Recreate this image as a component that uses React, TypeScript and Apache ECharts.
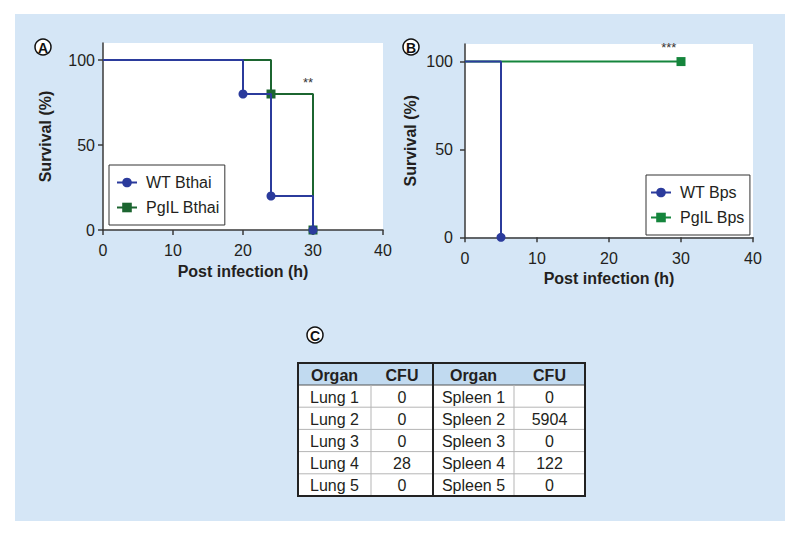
import React, { useEffect, useRef } from 'react';
import * as echarts from 'echarts';

// ---- Data ----
const xTicks = [0, 10, 20, 30, 40];
const yTicks = [0, 50, 100];

const wtBthaiTime = [0, 20, 24, 30];
const wtBthaiSurvival = [100, 80, 20, 0];
const pglBthaiTime = [0, 24, 30];
const pglBthaiSurvival = [100, 80, 0];

const wtBpsTime = [0, 5];
const wtBpsSurvival = [100, 0];
const pglBpsTime = [0, 30];
const pglBpsSurvival = [100, 100];

const tableHeaders = ['Organ', 'CFU', 'Organ', 'CFU'];
const lungOrgans = ['Lung 1', 'Lung 2', 'Lung 3', 'Lung 4', 'Lung 5'];
const lungCFU = [0, 0, 0, 28, 0];
const spleenOrgans = ['Spleen 1', 'Spleen 2', 'Spleen 3', 'Spleen 4', 'Spleen 5'];
const spleenCFU = [0, 5904, 0, 122, 0];

// ---- Styles ----
const FONT = '"Liberation Sans", Arial, Helvetica, sans-serif';
const TXT = '#231f20';
const AX = '#3a3a3a';
const BLUE = '#2b3b9c';
const GREEN_A = '#1c6530';
const GREEN_B = '#15853c';

function kmData(time: number[], surv: number[]) {
  return time.map((t, i) => (i === 0 ? { value: [t, surv[i]], symbol: 'none' } : { value: [t, surv[i]] }));
}

function xAxis(gridIndex: number, labelMargin: number) {
  return {
    type: 'value', gridIndex, min: 0, max: 40, interval: 10,
    name: 'Post infection (h)', nameLocation: 'middle', nameGap: 33,
    nameTextStyle: { fontFamily: FONT, fontSize: 16, fontWeight: 'bold', color: TXT },
    axisLine: { show: true, onZero: false, lineStyle: { color: AX, width: 1.5 } },
    axisTick: { show: true, length: 5, customValues: xTicks, lineStyle: { color: AX, width: 1.5 } },
    axisLabel: { margin: labelMargin, customValues: xTicks, fontFamily: FONT, fontSize: 16, color: TXT },
    splitLine: { show: false },
  };
}

function yAxis(gridIndex: number, labelMargin: number, nameGap: number) {
  return {
    type: 'value', gridIndex, min: 0, max: 110, interval: 50,
    name: 'Survival (%)', nameLocation: 'middle', nameGap,
    nameTextStyle: { fontFamily: FONT, fontSize: 16, fontWeight: 'bold', color: TXT },
    axisLine: { show: true, onZero: false, lineStyle: { color: AX, width: 1.5 } },
    axisTick: { show: true, length: 5, customValues: yTicks, lineStyle: { color: AX, width: 1.5 } },
    axisLabel: { margin: labelMargin, customValues: yTicks, fontFamily: FONT, fontSize: 16, color: TXT },
    splitLine: { show: false },
  };
}

function legend(names: string[], left: number, top: number, padding: number[]) {
  return {
    data: names, orient: 'vertical', left, top,
    itemWidth: 20, itemHeight: 12, itemGap: 8,
    backgroundColor: '#fff', borderColor: '#333', borderWidth: 1, borderRadius: 0,
    padding,
    textStyle: { fontFamily: FONT, fontSize: 16, color: TXT, padding: [0, 0, 0, 4], lineHeight: 17 },
  };
}

function marker(text: string, coord: number[]) {
  return {
    symbol: 'circle', symbolSize: 1,
    itemStyle: { color: 'rgba(0,0,0,0)' },
    label: { show: true, formatter: text, position: 'inside', fontFamily: FONT, fontSize: 13, color: '#333' },
    data: [{ coord }],
  };
}

function circledLetter(letter: string, cx: number, cy: number) {
  return {
    type: 'group', z: 10,
    children: [
      { type: 'circle', shape: { cx, cy, r: 8 }, style: { fill: '#fff', stroke: '#111', lineWidth: 1.5 } },
      { type: 'text', x: cx, y: cy + 0.5, style: { text: letter, fontFamily: FONT, fontSize: 14, fontWeight: 'bold', fill: '#111', align: 'center', verticalAlign: 'middle' } },
    ],
  };
}

function buildTable() {
  const colX = [298, 371, 433, 514, 585];
  const top = 363;
  const headH = 22;
  const rowH = 22.2;
  const nRows = lungOrgans.length;
  const bottom = top + headH + rowH * nRows;
  const els: any[] = [];
  els.push({ type: 'rect', z: 5, shape: { x: colX[0], y: top, width: colX[4] - colX[0], height: bottom - top }, style: { fill: '#fff' } });
  els.push({ type: 'rect', z: 6, shape: { x: colX[0], y: top, width: colX[4] - colX[0], height: headH }, style: { fill: '#c1daf0' } });
  for (let r = 1; r < nRows; r++) {
    const y = top + headH + rowH * r;
    els.push({ type: 'line', z: 7, shape: { x1: colX[0], y1: y, x2: colX[4], y2: y }, style: { stroke: '#b5b5b5', lineWidth: 1 } });
  }
  els.push({ type: 'line', z: 7, shape: { x1: colX[0], y1: top + headH, x2: colX[4], y2: top + headH }, style: { stroke: '#555', lineWidth: 1.2 } });
  [colX[1], colX[3]].forEach((x) => {
    els.push({ type: 'line', z: 7, shape: { x1: x, y1: top + headH, x2: x, y2: bottom }, style: { stroke: '#b5b5b5', lineWidth: 1 } });
  });
  els.push({ type: 'line', z: 8, shape: { x1: colX[2], y1: top, x2: colX[2], y2: bottom }, style: { stroke: '#222', lineWidth: 2 } });
  els.push({ type: 'rect', z: 8, shape: { x: colX[0], y: top, width: colX[4] - colX[0], height: bottom - top }, style: { fill: 'none', stroke: '#222', lineWidth: 2 } });
  tableHeaders.forEach((h, i) => {
    els.push({ type: 'text', z: 9, x: (colX[i] + colX[i + 1]) / 2, y: top + headH / 2 + 1, style: { text: h, fontFamily: FONT, fontSize: 16, fontWeight: 'bold', fill: TXT, align: 'center', verticalAlign: 'middle' } });
  });
  const cols = [lungOrgans, lungCFU, spleenOrgans, spleenCFU];
  for (let r = 0; r < nRows; r++) {
    cols.forEach((col, c) => {
      els.push({ type: 'text', z: 9, x: (colX[c] + colX[c + 1]) / 2, y: top + headH + rowH * r + rowH / 2 + 1, style: { text: String(col[r]), fontFamily: FONT, fontSize: 16, fill: TXT, align: 'center', verticalAlign: 'middle' } });
    });
  }
  return els;
}

const option: any = {
  animation: false,
  backgroundColor: '#fff',
  textStyle: { fontFamily: FONT },
  grid: [
    { left: 103, top: 43, width: 280, height: 187, show: true, backgroundColor: '#fff', borderWidth: 0 },
    { left: 465, top: 44, width: 288, height: 193.3, show: true, backgroundColor: '#fff', borderWidth: 0 },
  ],
  xAxis: [xAxis(0, 12), xAxis(1, 13)],
  yAxis: [yAxis(0, 8, 50), yAxis(1, 12, 47)],
  legend: [
    legend(['WT Bthai', 'PgIL Bthai'], 109, 165, [9, 5, 9, 7]),
    legend(['WT Bps', 'PgIL Bps'], 646, 175, [9, 5, 9, 4]),
  ],
  series: [
    {
      name: 'WT Bthai', type: 'line', step: 'end', xAxisIndex: 0, yAxisIndex: 0,
      symbol: 'circle', symbolSize: 9, color: BLUE,
      lineStyle: { color: BLUE, width: 2 }, itemStyle: { color: BLUE },
      data: kmData(wtBthaiTime, wtBthaiSurvival), z: 3,
    },
    {
      name: 'PgIL Bthai', type: 'line', step: 'end', xAxisIndex: 0, yAxisIndex: 0,
      symbol: 'rect', symbolSize: 9, color: GREEN_A,
      lineStyle: { color: GREEN_A, width: 2 }, itemStyle: { color: GREEN_A },
      data: kmData(pglBthaiTime, pglBthaiSurvival), z: 2,
      markPoint: marker('**', [29.3, 87]),
    },
    {
      name: 'WT Bps', type: 'line', step: 'end', xAxisIndex: 1, yAxisIndex: 1,
      symbol: 'circle', symbolSize: 9, color: BLUE,
      lineStyle: { color: BLUE, width: 2 }, itemStyle: { color: BLUE },
      data: kmData(wtBpsTime, wtBpsSurvival), z: 3,
    },
    {
      name: 'PgIL Bps', type: 'line', step: 'end', xAxisIndex: 1, yAxisIndex: 1,
      symbol: 'rect', symbolSize: 9, color: GREEN_B,
      lineStyle: { color: GREEN_B, width: 2 }, itemStyle: { color: GREEN_B },
      data: kmData(pglBpsTime, pglBpsSurvival), z: 2,
      markPoint: marker('***', [28.3, 108]),
    },
  ],
  graphic: [
    { type: 'rect', z: -100, silent: true, shape: { x: 15, y: 14, width: 770, height: 507 }, style: { fill: '#d5e6f6' } },
    circledLetter('A', 43, 47),
    circledLetter('B', 411, 47),
    circledLetter('C', 315, 335),
    ...buildTable(),
  ],
};

export default function App() {
  const ref = useRef<HTMLDivElement>(null);
  useEffect(() => {
    const chart = echarts.init(ref.current!, null, { renderer: 'svg' });
    chart.setOption(option);
    return () => chart.dispose();
  }, []);
  return <div ref={ref} style={{ position: 'fixed', left: 0, top: 0, width: 800, height: 536 }} />;
}
